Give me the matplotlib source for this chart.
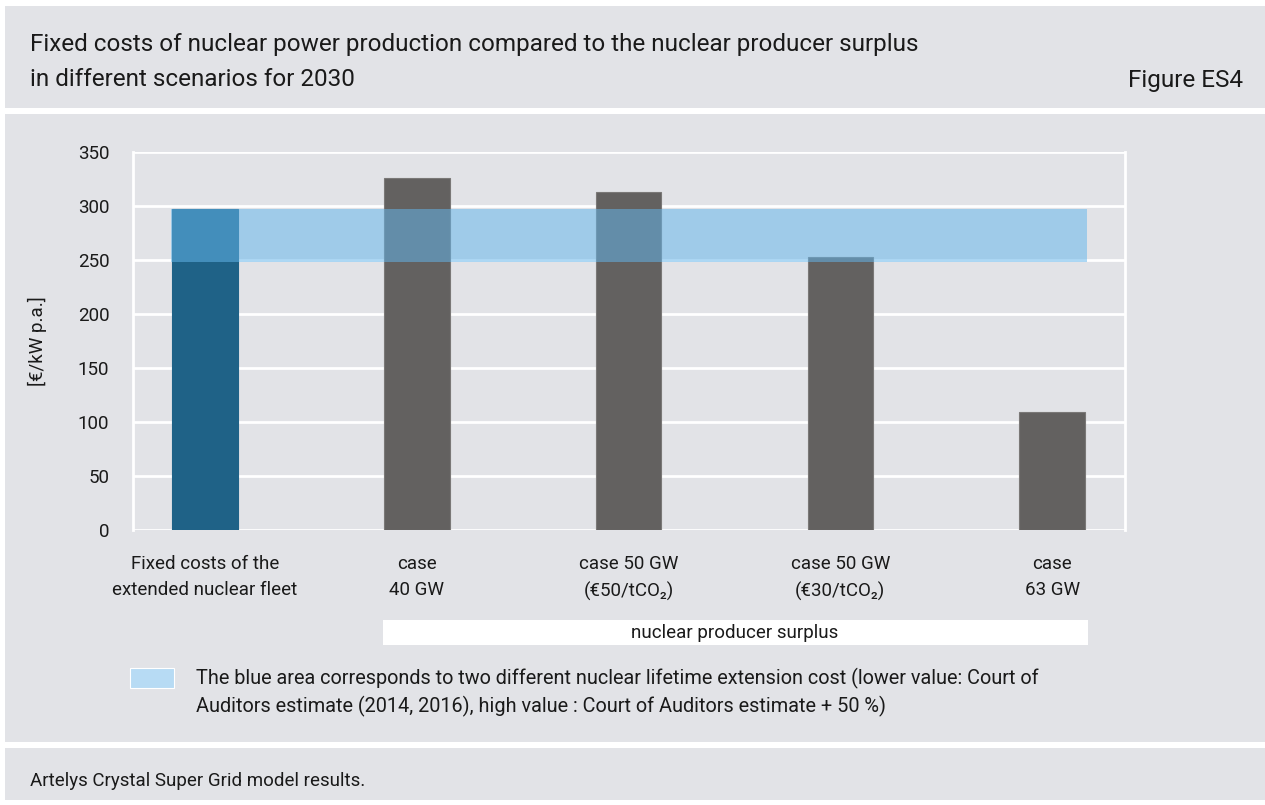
import matplotlib
matplotlib.use('Agg')
import matplotlib.pyplot as plt
from matplotlib.patches import Rectangle

plt.rcParams['font.family'] = ['Roboto', 'DejaVu Sans']

# data
categories = ['Fixed costs of the\nextended nuclear fleet', 'case\n40 GW',
              'case 50 GW\n(€50/tCO₂)', 'case 50 GW\n(€30/tCO₂)', 'case\n63 GW']
values = [297, 326, 313, 253, 109]
band_low = 248
band_high = 297
yticks = [0, 50, 100, 150, 200, 250, 300, 350]

W, H = 1265, 805
BG = '#e2e3e7'
TXT = '#1a1a1a'

fig = plt.figure(figsize=(W / 100, H / 100), dpi=100)
fig.patch.set_facecolor('white')


def px(x, y):
    return x / W, 1 - y / H


def panel(y0, y1):
    fig.patches.append(Rectangle(px(5, y1), (W - 5) / W, (y1 - y0) / H,
                                 transform=fig.transFigure, facecolor=BG,
                                 edgecolor='none', zorder=0))


panel(6, 108)
panel(114, 742)
panel(748, 800)

fig.text(*px(30, 45), 'Fixed costs of nuclear power production compared to the nuclear producer surplus',
         fontsize=17.5, va='center', ha='left', color=TXT)
fig.text(*px(30, 80), 'in different scenarios for 2030',
         fontsize=17.5, va='center', ha='left', color=TXT)
fig.text(*px(1243, 80), 'Figure ES4', fontsize=17.5, va='center', ha='right', color=TXT)

ax = fig.add_axes([133 / W, 1 - 530 / H, 992 / W, 378 / H])
ax.set_zorder(3)
ax.set_facecolor(BG)
x = list(range(len(values)))
colors = ['#1f6287'] + ['#636160'] * (len(values) - 1)
ax.bar(x, values, width=0.31, color=colors, edgecolor=['#1f6287'] + ['#7a7877'] * 4,
       linewidth=0.8, zorder=3)
ax.fill_between([-0.16, 4.165], band_low, band_high, color='#64b6eb', alpha=0.53,
                linewidth=0, zorder=4)

ax.set_xlim(-0.34, 4.344)
ax.set_ylim(0, 350)
ax.set_yticks(yticks)
ax.set_yticklabels([str(t) for t in yticks], fontsize=13.5, color=TXT)
ax.set_xticks(x)
ax.set_xticklabels(categories, fontsize=13.5, color=TXT, linespacing=1.6)
ax.tick_params(length=0, pad=17, axis='y')
ax.tick_params(length=0, pad=18, axis='x')
ax.grid(axis='y', color='white', linewidth=2, zorder=1)
for s in ['top', 'bottom']:
    ax.spines[s].set_visible(False)
for s in ['left', 'right']:
    ax.spines[s].set_color('white')
    ax.spines[s].set_linewidth(2)
ax.set_ylabel('[€/kW p.a.]', fontsize=13.5, color=TXT)
ax.yaxis.set_label_coords(-86 / 992, 0.5)

# surplus box
fig.patches.append(Rectangle(px(383, 645), 705 / W, 25 / H, transform=fig.transFigure,
                             facecolor='white', edgecolor='none', zorder=1))
fig.text(*px(735, 633), 'nuclear producer surplus', fontsize=13.5, ha='center', va='center',
         color=TXT)

# legend
fig.patches.append(Rectangle(px(130, 688), 44 / W, 20 / H, transform=fig.transFigure,
                             facecolor='#b7dbf4', edgecolor='white', linewidth=0.8, zorder=1))
fig.text(*px(196, 678), 'The blue area corresponds to two different nuclear lifetime extension cost '
         '(lower value: Court of', fontsize=14.3, ha='left', va='center', color=TXT)
fig.text(*px(196, 706), 'Auditors estimate (2014, 2016), high value : Court of Auditors estimate + 50 %)',
         fontsize=14.3, ha='left', va='center', color=TXT)

fig.text(*px(30, 781), 'Artelys Crystal Super Grid model results.', fontsize=13.5,
         ha='left', va='center', color=TXT)

fig.savefig('out.png', dpi=100, facecolor=fig.get_facecolor())
